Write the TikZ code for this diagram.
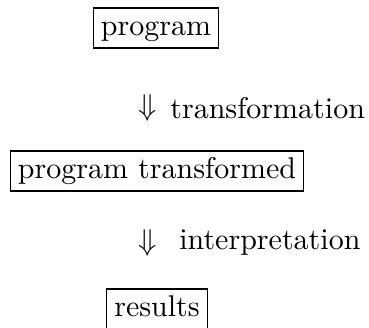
\documentclass[tikz,border=0pt]{standalone}
\usepackage{amsmath}
\usepackage{amssymb}
\usepackage{tikz}
\usetikzlibrary{positioning}

\begin{document}
\begin{tikzpicture}[
    x=0.3333pt, y=-0.3333pt,
    stage/.style={draw, line width=0.45pt, inner xsep=2.5pt, inner ysep=2.2pt,
                  text height=6.94pt, text depth=1.94pt},
    darrow/.style={inner sep=0pt},
    steplabel/.style={inner sep=0pt},
]
    \useasboundingbox (0,0) rectangle (369,328);

    \node[stage] (prog) at (156,28) {program};
    \node[stage] (progt) at (157,171) {program transformed};
    \node[stage] (res) at (157,309) {results};

    \node[darrow] (arrA) at (148,108) {$\Downarrow$};
    \node[steplabel, right=4pt of arrA] (trans) {transformation};

    \node[darrow] (arrB) at (148,243) {$\Downarrow$};
    \node[steplabel, right=7pt of arrB] (interp) {interpretation};
\end{tikzpicture}
\end{document}
